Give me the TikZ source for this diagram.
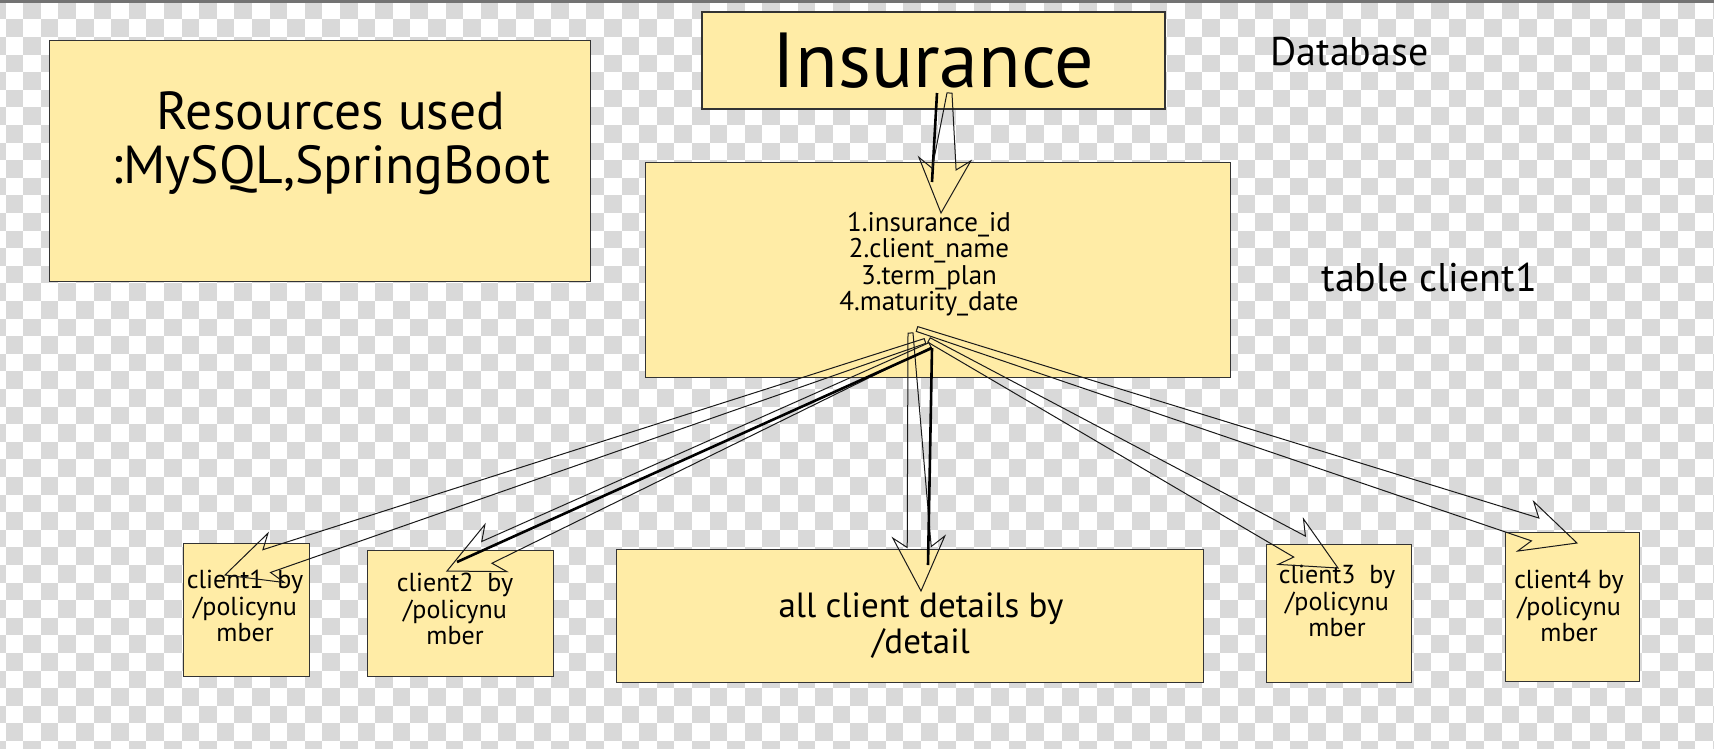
\documentclass[tikz,border=0pt]{standalone}
\usepackage{tikz}
\usetikzlibrary{calc}
\usepackage{fontspec}
\setmainfont{PT Sans}
\usepackage{xcolor}
\definecolor{notepad}{RGB}{255,236,166}
\definecolor{checker}{RGB}{217,217,217}
\tikzset{>=latex}

% hollow block arrow: id, from, to
\newcommand{\hollowarrow}[3]{%
  \coordinate (#1b) at ($(#3)!44pt!(#2)$);
  \coordinate (#1w) at ($(#3)!54pt!(#2)$);
  \draw[flexarrow] ($(#2)!2.5pt!90:(#3)$) -- ($(#1b)!12pt!90:(#3)$)
    -- ($(#1w)!26pt!90:(#3)$) -- (#3) -- ($(#1w)!26pt!-90:(#3)$)
    -- ($(#1b)!12pt!-90:(#3)$) -- ($(#2)!2.5pt!-90:(#3)$) -- cycle;
}

\begin{document}
\begin{tikzpicture}[x=1pt,y=-1pt,
  box/.style={draw=black!80, line width=1.1pt, fill=notepad, inner sep=0pt, anchor=north west},
  flexarrow/.style={draw=black!90, line width=1pt, line join=miter},
  thickline/.style={line width=2.6pt},
  cltext/.style={font=\fontsize{26}{26.5}\selectfont, align=center}]
\useasboundingbox (0,0) rectangle (1714,748);
% transparency grid
\begin{scope}
  \clip (0,0) rectangle (1714,748);
  \fill[white] (0,0) rectangle (1714,748);
  \foreach \i in {0,...,98}
    \foreach \j in {0,...,44}{
      \pgfmathtruncatemacro\k{\i+\j}
      \ifodd\k
        \fill[checker] (5.6+17.6*\i-17.6,1.8+17.6*\j-17.6) rectangle +(17.6,17.6);
      \fi}
  \fill[black!55] (0,0) rectangle (1714,2.5);
\end{scope}

% boxes
\node[box, minimum width=541, minimum height=241] (res) at (49,40) {};
\node[font=\fontsize{53.5}{54}\selectfont, align=center] (restext) at (331,143) {Resources used\\:MySQL,SpringBoot};
\node[box, minimum width=463, minimum height=97, anchor=center, font=\fontsize{78}{80}\selectfont] (ins) at (933.5,60.5) {Insurance};
\node[box, minimum width=585, minimum height=215] (tbl) at (645,162) {};
\node[font=\fontsize{27}{26.5}\selectfont, align=center] (tbltext) at (929,264) {1.insurance\_id\\2.client\_name\\3.term\_plan\\4.maturity\_date};
\node[font=\fontsize{40}{44}\selectfont, anchor=base west] (dbname) at (1267,65) {Database};
\node[font=\fontsize{40}{44}\selectfont, anchor=base west] (tblname) at (1318,291) {table client1};

\node[box, minimum width=126, minimum height=133] (c1) at (183,543) {};
\node[cltext] (c1text) at (245,606) {client1\ \ by\\/policynu\\mber};
\node[box, minimum width=186, minimum height=126] (c2) at (367,550) {};
\node[cltext] (c2text) at (455,609) {client2\ \ by\\/policynu\\mber};
\node[box, minimum width=587, minimum height=133] (all) at (616,549) {};
\node[font=\fontsize{35}{36}\selectfont, align=center] (alltext) at (921,626) {all client details by\\/detail};
\node[box, minimum width=145, minimum height=138] (c3) at (1266,544) {};
\node[cltext] (c3text) at (1337,601) {client3\ \ by\\/policynu\\mber};
\node[box, minimum width=134, minimum height=149] (c4) at (1505,532) {};
\node[cltext] (c4text) at (1569,606) {client4 by\\/policynu\\mber};

% arrow ends
\coordinate (ins-out) at (949.5,93);
\coordinate (ins-line) at (937,93);
\coordinate (tbl-in) at (941,213);
\coordinate (tbl-line) at (932,182);
\coordinate (tbl-c1) at (925,341);
\coordinate (tbl-c2) at (930,345);
\coordinate (tbl-all) at (910.5,333);
\coordinate (tbl-c3) at (929,340);
\coordinate (tbl-c4) at (917,329);
\coordinate (tbl-thick) at (932,348);
\coordinate (c1-in) at (225,575);
\coordinate (c2-in) at (447,571);
\coordinate (c2-line) at (457,562);
\coordinate (all-in) at (921,591);
\coordinate (all-line) at (928,565);
\coordinate (c3-in) at (1338,568);
\coordinate (c4-in) at (1577,543);

% arrows
\draw[thickline] (ins-line) -- (tbl-line);
\hollowarrow{a0}{ins-out}{tbl-in}
\hollowarrow{a1}{tbl-c1}{c1-in}
\hollowarrow{a2}{tbl-c2}{c2-in}
\hollowarrow{a3}{tbl-all}{all-in}
\hollowarrow{a4}{tbl-c3}{c3-in}
\hollowarrow{a5}{tbl-c4}{c4-in}
\draw[thickline] (tbl-thick) -- (c2-line);
\draw[thickline] (tbl-thick) -- (all-line);
\end{tikzpicture}
\end{document}
